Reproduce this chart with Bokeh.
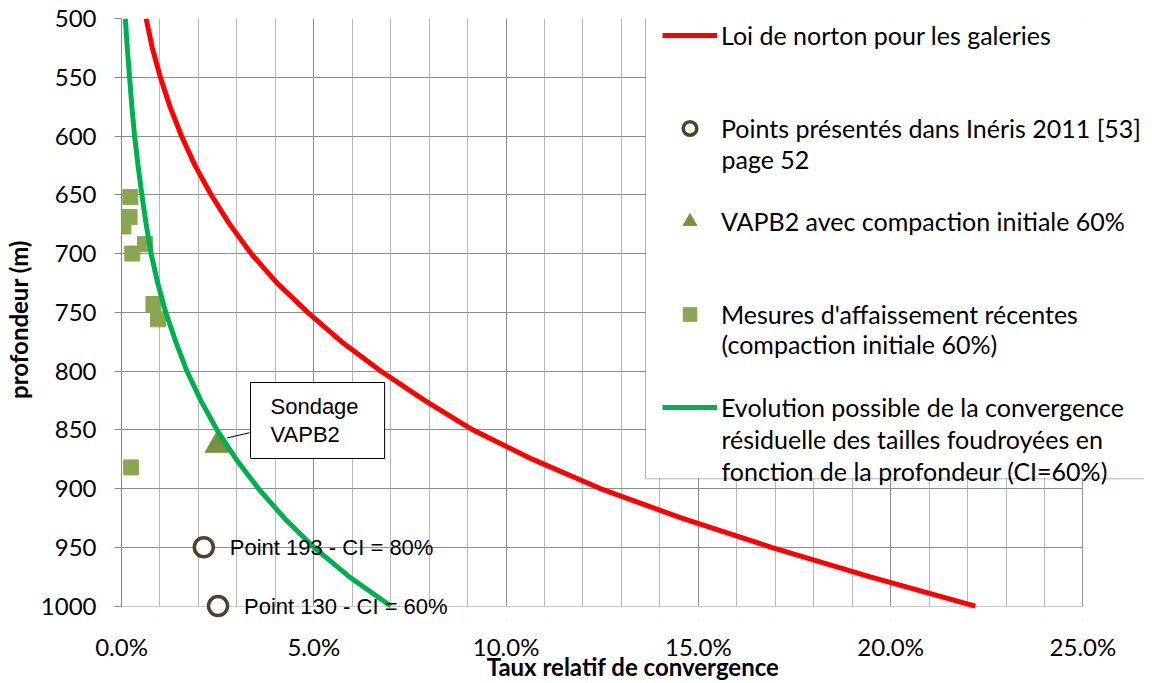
from bokeh.plotting import figure
from bokeh.models import (Range1d, FixedTicker, PrintfTickFormatter, Legend, LegendItem,
                          Label, Arrow, ColumnDataSource, BoxAnnotation)
from bokeh.embed import file_html
from bokeh.resources import INLINE

# ---------------- data ----------------
depth_curve = [500, 525, 550, 575, 600, 625, 650, 675, 700, 725, 750,
               775, 800, 825, 850, 875, 900, 925, 950, 975, 1000]
norton_pct = [0.64, 0.80, 1.01, 1.26, 1.56, 1.91, 2.33, 2.81, 3.37, 4.04, 4.84,
              5.72, 6.74, 7.88, 9.13, 10.68, 12.45, 14.55, 16.90, 19.45, 22.2]
evolution_pct = [0.10, 0.15, 0.21, 0.27, 0.34, 0.43, 0.53, 0.64, 0.77, 0.94, 1.15,
                 1.41, 1.70, 2.06, 2.48, 2.98, 3.56, 4.23, 5.00, 5.92, 7.00]

ineris_pct = [2.14, 2.51]
ineris_depth = [950, 1000]
ineris_names = ["Point 193 - CI = 80%", "Point 130 - CI = 60%"]

vapb2_pct = [2.50]
vapb2_depth = [863]

mesures_pct = [0.23, 0.21, 0.05, 0.61, 0.28, 0.83, 0.95, 0.25]
mesures_depth = [652, 669, 677, 692, 700, 743, 756, 882]

x_ticks = [0, 5, 10, 15, 20, 25]
x_minor = list(range(0, 26))
y_ticks = [500, 550, 600, 650, 700, 750, 800, 850, 900, 950, 1000]

legend_lines = [
    ["Loi de norton pour les galeries"],
    ["Points présentés dans Inéris 2011 [53]", "page 52"],
    ["VAPB2 avec compaction initiale 60%"],
    ["Mesures d'affaissement récentes", "(compaction initiale 60%)"],
    ["Evolution possible de la convergence",
     "résiduelle des tailles foudroyées  en",
     "fonction de la profondeur (CI=60%)"],
]

# ---------------- geometry ----------------
FONT = "Lato"
PAGE_X = 8                  # horizontal page margin
W, H = 1144, 683
LEFT, TOP = 114, 18         # frame left at page x 122, top at page y 18
PX_PER_PCT = 38.72          # 0% -> 25% spans 968 px
PX_PER_M = 593.4 / 500.0    # 500 m -> 1000 m spans 593 px
FRAME_W = W - LEFT
FRAME_H = 608
x_end = FRAME_W / PX_PER_PCT
y_end = 500 + FRAME_H / PX_PER_M
fb = TOP + FRAME_H          # frame bottom, page pixels
fl = PAGE_X + LEFT          # frame left, page pixels

p = figure(width=W, height=H, output_backend="svg", toolbar_location=None,
           x_range=Range1d(0, x_end), y_range=Range1d(y_end, 500),
           min_border_left=LEFT, min_border_right=0, min_border_top=TOP,
           min_border_bottom=H - TOP - FRAME_H)
p.outline_line_color = None
p.background_fill_color = "white"
p.border_fill_color = "white"

# axes
p.xaxis.ticker = FixedTicker(ticks=x_ticks, minor_ticks=x_minor)
p.yaxis.ticker = FixedTicker(ticks=y_ticks)
p.xaxis.formatter = PrintfTickFormatter(format="%.1f%%")
for ax in (p.xaxis[0], p.yaxis[0]):
    ax.axis_line_color = "#868686"
    ax.major_tick_line_color = "#868686"
    ax.minor_tick_out = 0
    ax.minor_tick_in = 0
    ax.major_tick_in = 0
    ax.major_label_text_font = FONT
    ax.major_label_text_font_size = "24px"
    ax.major_label_text_color = "black"
    ax.axis_label_text_font = FONT
    ax.axis_label_text_font_size = "24px"
    ax.axis_label_text_font_style = "bold"
    ax.axis_label_text_color = "black"
p.xaxis.axis_line_color = None
p.xaxis.major_tick_out = 0
p.yaxis.major_tick_out = 7
p.yaxis.bounds = (500, 1000)
p.xaxis.major_label_standoff = 11
p.yaxis.major_label_standoff = 18
p.xaxis.axis_label = "Taux relatif de convergence"
p.yaxis.axis_label = "profondeur (m)"
p.xaxis.axis_label_standoff = -12
p.yaxis.axis_label_standoff = 5

# grids
p.xgrid.grid_line_color = "#8c8c8c"
p.xgrid.minor_grid_line_color = "#b8b8b8"
p.ygrid.grid_line_color = "#8c8c8c"

# white masks outside the 0-25% / 500-1000 plot area, and legend background
p.add_layout(BoxAnnotation(left=25, fill_color="white", fill_alpha=1.0,
                           line_color=None, level="underlay"))
p.add_layout(BoxAnnotation(top=1000.45, fill_color="white", fill_alpha=1.0,
                           line_color=None, level="underlay"))
p.add_layout(BoxAnnotation(left=646 - fl, right=FRAME_W - 1.5, bottom=fb - 484.3, top=fb - 21,
                           left_units="screen", right_units="screen",
                           bottom_units="screen", top_units="screen",
                           fill_color="white", fill_alpha=1.0,
                           line_color="black", line_width=1, level="underlay"))

# ---------------- series ----------------
src_curve = ColumnDataSource(dict(depth=depth_curve, norton=norton_pct, evol=evolution_pct))
r_red = p.line("norton", "depth", source=src_curve, line_color="#ff0000", line_width=5)
r_circ = p.scatter(ineris_pct, ineris_depth, marker="circle", size=19,
                   fill_color="white", line_color="#4a452a", line_width=3.5)
r_tri = p.scatter(vapb2_pct, vapb2_depth, marker="triangle", size=25,
                  fill_color="#76923c", line_color="#76923c", line_width=1)
r_sq = p.scatter(mesures_pct, mesures_depth, marker="square", size=15,
                 fill_color="#8ba650", line_color="#8ba650", line_width=1)
r_green = p.line("evol", "depth", source=src_curve, line_color="#00b050", line_width=5)

# point labels
for xv, yv, name in zip(ineris_pct, ineris_depth, ineris_names):
    p.add_layout(Label(x=xv, y=yv, x_offset=26, text=name, text_align="left",
                       text_baseline="middle", text_font="Liberation Sans",
                       text_font_size="22px", text_color="black"))

# callout "Sondage VAPB2"
p.add_layout(Arrow(end=None, x_start=2.74, y_start=857, x_end=3.33, y_end=852.5,
                   line_color="black", line_width=1))
p.add_layout(Label(x=251 - fl, y=fb - 388, x_units="screen", y_units="screen",
                   anchor="top_left",
                   text="Sondage\nVAPB2", text_align="left", text_baseline="top",
                   text_font="Liberation Sans", text_font_size="22px",
                   text_line_height=1.12, text_color="black",
                   padding=dict(left=20, right=26, top=11, bottom=12),
                   border_line_color="black", border_line_width=1,
                   background_fill_color="white"))

# ---------------- legend ----------------
items = [LegendItem(label=lines[0], renderers=[r])
         for lines, r in zip(legend_lines, [r_red, r_circ, r_tri, r_sq, r_green])]
leg = Legend(items=items, location=(663 - fl, fb - 430), orientation="vertical",
             glyph_width=55, glyph_height=34, label_height=34, label_standoff=4,
             spacing=59, padding=0, margin=0,
             border_line_color=None, background_fill_alpha=0.0,
             label_text_font=FONT, label_text_font_size="25px",
             label_text_color="black")
p.add_layout(leg)

# continuation lines of the multi-line legend labels
cont_y = {1: [164.0], 3: [349.7], 4: [444.7, 476.3]}
for idx, ys in cont_y.items():
    for txt, yy in zip(legend_lines[idx][1:], ys):
        p.add_layout(Label(x=722 - fl, y=fb - yy, x_units="screen", y_units="screen",
                           text=txt, text_align="left", text_baseline="middle",
                           text_font=FONT, text_font_size="25px", text_color="black"))

open("out.html", "w").write(file_html(p, INLINE))
